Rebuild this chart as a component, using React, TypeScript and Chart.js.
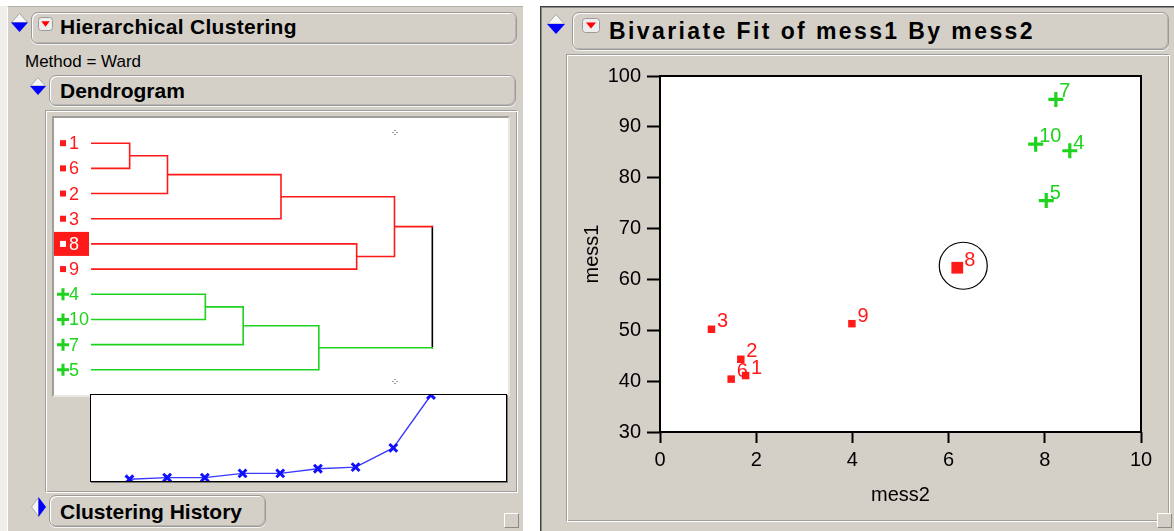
import React, { useEffect, useRef } from "react";
import { Chart, registerables } from "chart.js";
Chart.register(...registerables);

const FONT = "'Liberation Sans', Arial, Helvetica, sans-serif";
const GRAY = "#d4d0c8";
const RED = "#ff1a1a";
const GREEN = "#1ed21e";
Chart.defaults.font.family = FONT;

// ---------- Dendrogram data (Ward) ----------
const leafOrder = ["1", "6", "2", "3", "8", "9", "4", "10", "7", "5"];
const leafCluster = [1, 1, 1, 1, 1, 1, 2, 2, 2, 2];
const mergeLeft = ["1", "m1", "4", "m3", "m2", "m4", "8", "m5", "m8"];
const mergeRight = ["6", "2", "10", "7", "3", "5", "9", "m7", "m6"];
const mergeStep = [1, 2, 3, 4, 5, 6, 7, 8, 9];
const mergeCluster = [1, 1, 2, 2, 1, 2, 1, 1, 0];
const mergeDistance = [1.7, 3.4, 3.4, 7.7, 7.7, 12.4, 14.0, 33.4, 86.7];
const highlightedRow = "8";
const cutStep = 8;

// ---------- Bivariate data ----------
const rowLabels = ["1", "2", "3", "4", "5", "6", "7", "8", "9", "10"];
const mess2 = [1.78, 1.68, 1.07, 8.52, 8.03, 1.48, 8.23, 6.18, 3.99, 7.81];
const mess1 = [41.1, 44.3, 50.2, 85.3, 75.5, 40.4, 95.4, 62.3, 51.3, 86.6];
const rowCluster = [1, 1, 1, 2, 2, 1, 2, 1, 1, 2];
const xTicks = [0, 2, 4, 6, 8, 10];
const yTicks = [30, 40, 50, 60, 70, 80, 90, 100];

const clusterColor = (c: number) => (c === 1 ? RED : c === 2 ? GREEN : "#000000");

type P = { x: number; y: number | null };
function buildDendrogram() {
  const pos: Record<string, { x: number; y: number; c: number }> = {};
  leafOrder.forEach((id, i) => {
    pos[id] = { x: 0, y: i + 1, c: leafCluster[i] };
  });
  const segs: Record<number, P[]> = { 0: [], 1: [], 2: [] };
  const line = (c: number, pts: P[]) => {
    segs[c].push(...pts, { x: pts[pts.length - 1].x, y: null });
  };
  mergeLeft.forEach((l, i) => {
    const a = pos[l];
    const b = pos[mergeRight[i]];
    const x = mergeStep[i];
    const c = mergeCluster[i];
    if (a.c === c && b.c === c) {
      line(c, [
        { x: a.x, y: a.y },
        { x, y: a.y },
        { x, y: b.y },
        { x: b.x, y: b.y },
      ]);
    } else {
      line(a.c, [{ x: a.x, y: a.y }, { x, y: a.y }]);
      line(b.c, [{ x: b.x, y: b.y }, { x, y: b.y }]);
      line(c, [{ x, y: a.y }, { x, y: b.y }]);
    }
    pos["m" + (i + 1)] = { x, y: (a.y + b.y) / 2, c };
  });
  return segs;
}

function DendroChart() {
  const ref = useRef<HTMLCanvasElement>(null);
  useEffect(() => {
    const segs = buildDendrogram();
    const labelPlugin = {
      id: "leafLabels",
      afterDatasetsDraw(chart: any) {
        const ctx = chart.ctx;
        const ys = chart.scales.y;
        const xs = chart.scales.x;
        const left = chart.chartArea.left;
        ctx.save();
        ctx.font = `18px ${FONT}`;
        ctx.textBaseline = "middle";
        leafOrder.forEach((id, i) => {
          const y = ys.getPixelForValue(i + 1);
          const c = leafCluster[i];
          const col = clusterColor(c);
          if (id === highlightedRow) {
            ctx.fillStyle = RED;
            ctx.fillRect(left, y - 12, 35, 24);
            ctx.fillStyle = "#ffffff";
            ctx.fillRect(left + 6, y - 3, 6, 6);
            ctx.fillText(id, left + 15, y + 1);
          } else if (c === 1) {
            ctx.fillStyle = col;
            ctx.fillRect(left + 6, y - 3, 6, 6);
            ctx.fillText(id, left + 15, y + 1);
          } else {
            ctx.strokeStyle = col;
            ctx.lineWidth = 3;
            ctx.beginPath();
            ctx.moveTo(left + 3, y);
            ctx.lineTo(left + 15, y);
            ctx.moveTo(left + 9, y - 6);
            ctx.lineTo(left + 9, y + 6);
            ctx.stroke();
            ctx.fillStyle = col;
            ctx.fillText(id, left + 15, y + 1);
          }
        });
        // cut handles
        const cx = xs.getPixelForValue(cutStep);
        ctx.fillStyle = "#333";
        [chart.chartArea.top + 14, chart.chartArea.bottom - 14].forEach((cy: number) => {
          [[-2, 0], [2, 0], [0, -2], [0, 2]].forEach(([dx, dy]) => ctx.fillRect(cx + dx, cy + dy, 1, 1));
        });
        ctx.restore();
      },
    };
    const chart = new Chart(ref.current!, {
      type: "scatter",
      data: {
        datasets: [1, 2, 0].map((c) => ({
          data: segs[c] as any,
          showLine: true,
          borderColor: clusterColor(c),
          borderWidth: 1.6,
          pointRadius: 0,
          spanGaps: false,
          borderCapStyle: "square",
        })),
      },
      options: {
        animation: false,
        responsive: false,
        events: [],
        layout: { padding: 0, autoPadding: false },
        plugins: { legend: { display: false }, tooltip: { enabled: false } },
        scales: {
          x: { type: "linear", min: -1, max: 11, display: false },
          y: { type: "linear", min: 0, max: 11, reverse: true, display: false },
        },
      },
      plugins: [labelPlugin],
    });
    return () => chart.destroy();
  }, []);
  return <canvas ref={ref} width={454} height={277} style={{ position: "absolute", left: 54, top: 118 }} />;
}

function ScreeChart() {
  const ref = useRef<HTMLCanvasElement>(null);
  useEffect(() => {
    const chart = new Chart(ref.current!, {
      type: "scatter",
      data: {
        datasets: [
          {
            data: mergeStep.map((s, i) => ({ x: s, y: mergeDistance[i] })),
            showLine: true,
            borderColor: "#3a3aff",
            borderWidth: 1.4,
            pointStyle: "crossRot",
            pointRadius: 5.5,
            pointBorderWidth: 3,
            pointBorderColor: "#1010ff",
            clip: 0,
          } as any,
        ],
      },
      options: {
        animation: false,
        responsive: false,
        events: [],
        layout: { padding: 0, autoPadding: false },
        plugins: { legend: { display: false }, tooltip: { enabled: false } },
        scales: {
          x: { type: "linear", min: -0.02, max: 10.99, display: false },
          y: { type: "linear", min: 0, max: 86.7, display: false },
        },
      },
    });
    return () => chart.destroy();
  }, []);
  return <canvas ref={ref} width={415} height={86} style={{ position: "absolute", left: 0, top: 0 }} />;
}

function BivariateChart() {
  const ref = useRef<HTMLCanvasElement>(null);
  useEffect(() => {
    const pts = (c: number) =>
      rowLabels
        .map((id, i) => ({ x: mess2[i], y: mess1[i], id, c: rowCluster[i] }))
        .filter((p) => p.c === c);
    const framePlugin = {
      id: "frame",
      beforeDatasetsDraw(chart: any) {
        const { ctx, chartArea: a } = chart;
        ctx.save();
        ctx.fillStyle = "#ffffff";
        ctx.fillRect(a.left, a.top, a.width, a.height);
        ctx.restore();
      },
      afterDraw(chart: any) {
        const { ctx, chartArea: a } = chart;
        ctx.save();
        ctx.strokeStyle = "#000";
        ctx.lineWidth = 2;
        ctx.strokeRect(a.left, a.top, a.width, a.height);
        ctx.restore();
      },
      afterDatasetsDraw(chart: any) {
        const ctx = chart.ctx;
        ctx.save();
        ctx.font = `20px ${FONT}`;
        ctx.textBaseline = "alphabetic";
        chart.data.datasets.forEach((ds: any, di: number) => {
          const meta = chart.getDatasetMeta(di);
          ds.data.forEach((p: any, i: number) => {
            const el = meta.data[i];
            const big = p.id === highlightedRow;
            ctx.fillStyle = p.c === 1 ? RED : GREEN;
            const off = p.c === 1 ? (big ? 7 : 5.5) : 3.5;
            ctx.fillText(p.id, el.x + off, el.y - 2);
            if (big) {
              ctx.strokeStyle = "#000";
              ctx.lineWidth = 1.2;
              ctx.beginPath();
              ctx.ellipse(el.x + 6, el.y - 2, 24, 23.5, 0, 0, Math.PI * 2);
              ctx.stroke();
            }
          });
        });
        ctx.restore();
      },
    };
    const tickFont = { size: 20, family: FONT };
    const chart = new Chart(ref.current!, {
      type: "scatter",
      data: {
        datasets: [
          {
            data: pts(1) as any,
            pointStyle: "rect",
            backgroundColor: RED,
            borderColor: RED,
            borderWidth: 0,
            pointRadius: (ctx: any) => (ctx.raw && ctx.raw.id === highlightedRow ? 8.3 : 5.3),
          } as any,
          {
            data: pts(2) as any,
            pointStyle: "cross",
            borderColor: GREEN,
            backgroundColor: GREEN,
            borderWidth: 3.2,
            pointRadius: 7.5,
          } as any,
        ],
      },
      options: {
        animation: false,
        responsive: false,
        events: [],
        layout: { padding: { top: 13, right: 19, left: 0, bottom: 0 }, autoPadding: false },
        plugins: { legend: { display: false }, tooltip: { enabled: false } },
        scales: {
          x: {
            type: "linear",
            min: xTicks[0],
            max: xTicks[xTicks.length - 1],
            afterBuildTicks: (s: any) => {
              s.ticks = xTicks.map((v) => ({ value: v }));
            },
            afterFit: (s: any) => {
              s.height = 88;
            },
            ticks: { font: tickFont, color: "#000", padding: 5, maxRotation: 0 },
            grid: { drawOnChartArea: false, drawTicks: true, tickLength: 11, tickWidth: 2, tickColor: "#000" },
            border: { display: false },
            title: { display: true, text: "mess2", font: { size: 20, family: FONT }, color: "#000", padding: { top: 0, bottom: 13 } },
          },
          y: {
            type: "linear",
            min: yTicks[0],
            max: yTicks[yTicks.length - 1],
            afterBuildTicks: (s: any) => {
              s.ticks = yTicks.map((v) => ({ value: v }));
            },
            afterFit: (s: any) => {
              s.width = 85;
            },
            ticks: { font: tickFont, color: "#000", padding: 6 },
            grid: { drawOnChartArea: false, drawTicks: true, tickLength: 13, tickWidth: 2, tickColor: "#000" },
            border: { display: false },
            title: { display: true, text: "mess1", font: { size: 20, family: FONT }, color: "#000", padding: { top: 5, bottom: 0 } },
          },
        },
      },
      plugins: [framePlugin],
    });
    return () => chart.destroy();
  }, []);
  return <canvas ref={ref} width={585} height={462} style={{ position: "absolute", left: 575, top: 58 }} />;
}

// ---------- chrome helpers ----------
const abs = (x: number, y: number, w: number, h: number, extra: React.CSSProperties = {}): React.CSSProperties => ({
  position: "absolute",
  left: x,
  top: y,
  width: w,
  height: h,
  boxSizing: "border-box",
  ...extra,
});

function HeaderBox({ x, y, w, h }: { x: number; y: number; w: number; h: number }) {
  return (
    <div
      style={abs(x, y, w, h, {
        border: "1px solid #9c9a96",
        borderRadius: 7,
        background: GRAY,
        boxShadow: "inset 1px 1px 0 #ffffff, inset -1px -1px 0 #b8b5ae, 0 1px 0 #f4f4f4",
      })}
    />
  );
}

function Txt({ x, base, size, bold, spacing, children }: any) {
  return (
    <div
      style={{
        position: "absolute",
        left: x,
        top: base - 0.8465 * size,
        fontSize: size,
        lineHeight: size + "px",
        fontWeight: bold ? 700 : 400,
        letterSpacing: spacing || 0,
        whiteSpace: "nowrap",
        color: "#000",
        fontFamily: FONT,
      }}
    >
      {children}
    </div>
  );
}

function Diamond({ x, y, w, h, dir }: { x: number; y: number; w: number; h: number; dir: "down" | "right" }) {
  const cx = w / 2;
  const cy = h / 2;
  return (
    <svg style={{ position: "absolute", left: x, top: y }} width={w} height={h}>
      {dir === "down" ? (
        <>
          <polygon points={`${cx},0.5 ${w - 0.5},${cy} 0.5,${cy}`} fill="#f6f6f6" stroke="#a8a8a8" strokeWidth={1} />
          <polygon points={`0,${cy} ${w},${cy} ${cx},${h}`} fill="#0000ff" />
        </>
      ) : (
        <>
          <polygon points={`${cx},0.5 0.5,${cy} ${cx},${h - 0.5}`} fill="#f6f6f6" stroke="#a8a8a8" strokeWidth={1} />
          <polygon points={`${cx},0 ${w},${cy} ${cx},${h}`} fill="#0000ff" />
        </>
      )}
    </svg>
  );
}

function RedButton({ x, y, w, h }: { x: number; y: number; w: number; h: number }) {
  return (
    <svg style={{ position: "absolute", left: x, top: y }} width={w} height={h}>
      <rect x={0.5} y={0.5} width={w - 1} height={h - 1} rx={3} fill="#eeeeee" stroke="#9a9a9a" />
      <polygon points={`${w * 0.22},${h * 0.3} ${w * 0.78},${h * 0.3} ${w / 2},${h * 0.7}`} fill="#ff0000" />
    </svg>
  );
}

function Etched({ x, y, w, h }: { x: number; y: number; w: number; h: number }) {
  return (
    <div
      style={abs(x, y, w, h, {
        borderStyle: "solid",
        borderWidth: 1,
        borderColor: "#a09e98 #ffffff #ffffff #a09e98",
        boxShadow: "inset 1px 1px 0 #ffffff, inset -1px -1px 0 #a09e98",
      })}
    />
  );
}

function SmallSquare({ x, y }: { x: number; y: number }) {
  return (
    <div
      style={abs(x, y, 15, 15, {
        borderStyle: "solid",
        borderWidth: 1,
        borderColor: "#ffffff #8c8a84 #8c8a84 #ffffff",
        background: GRAY,
      })}
    />
  );
}

export default function App() {
  return (
    <div style={{ position: "fixed", left: 0, top: 0, width: 1174, height: 531, background: "#ffffff", overflow: "hidden", fontFamily: FONT }}>
      {/* left strip */}
      <div style={abs(0, 6, 7, 525, { background: "#efeeeb" })} />
      {/* LEFT PANEL */}
      <div style={abs(7, 6, 516, 525, { background: GRAY, borderTop: "1px solid #b0aea8", borderLeft: "1px solid #ffffff" })} />
      <Diamond x={11} y={13} w={17} h={19} dir="down" />
      <HeaderBox x={31} y={12} w={486} h={32} />
      <RedButton x={38} y={17} w={15} h={14} />
      <Txt x={60} base={34} size={21} bold spacing={0.3}>
        Hierarchical Clustering
      </Txt>
      <Txt x={25} base={67} size={17}>
        Method = Ward
      </Txt>
      <Diamond x={30} y={77} w={16} h={18} dir="down" />
      <HeaderBox x={49} y={75} w={467} h={31} />
      <Txt x={60} base={98} size={21} bold>
        Dendrogram
      </Txt>
      <Etched x={45} y={110} w={473} h={383} />
      <div style={abs(52, 116, 458, 281, { borderStyle: "solid", borderWidth: 2, borderColor: "#a09e98 #e8e6e0 #e8e6e0 #a09e98", background: "#fff" })} />
      <DendroChart />
      <div style={abs(90, 394, 417, 88, { border: "1px solid #000", background: "#fff", boxShadow: "1px 1px 0 #7a7874" })}>
        <ScreeChart />
      </div>
      <Diamond x={31} y={497} w={15} h={20} dir="right" />
      <HeaderBox x={49} y={495} w={217} h={32} />
      <Txt x={60} base={519} size={21} bold>
        Clustering History
      </Txt>
      <SmallSquare x={504} y={513} />

      {/* RIGHT PANEL */}
      <div style={abs(540, 6, 634, 525, { background: GRAY, borderTop: "1px solid #404040", borderLeft: "1px solid #404040", boxShadow: "inset 1px 1px 0 #8c8a84" })} />
      <Diamond x={547} y={14} w={18} h={20} dir="down" />
      <HeaderBox x={572} y={12} w={597} h={38} />
      <RedButton x={582} y={18} w={18} h={15} />
      <Txt x={609} base={39} size={23} bold spacing={2.4}>
        Bivariate Fit of mess1 By mess2
      </Txt>
      <Etched x={566} y={54} w={604} h={468} />
      <BivariateChart />
      <SmallSquare x={1157} y={513} />
    </div>
  );
}
